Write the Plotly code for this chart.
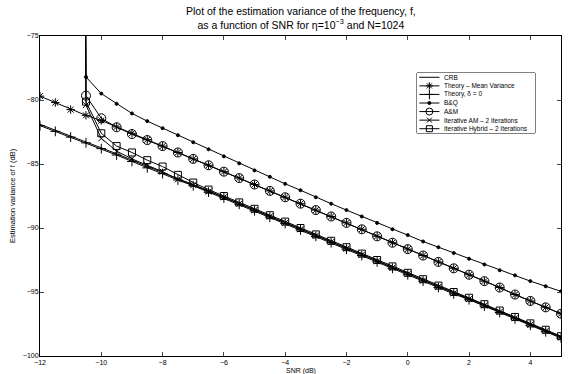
import plotly.graph_objects as go

# ---------------- data ----------------
snr = [-12, -11.5, -11, -10.5, -10, -9.5, -9, -8.5, -8, -7.5, -7, -6.5, -6, -5.5, -5,
       -4.5, -4, -3.5, -3, -2.5, -2, -1.5, -1, -0.5, 0, 0.5, 1, 1.5, 2, 2.5, 3, 3.5, 4, 4.5, 5]

theory_delta0 = [-82.0, -82.45, -82.9, -83.35, -83.8, -84.3, -84.8, -85.3, -85.75, -86.25,
                 -86.7, -87.2, -87.65, -88.15, -88.65, -89.15, -89.65, -90.15, -90.65, -91.15,
                 -91.65, -92.15, -92.65, -93.15, -93.65, -94.15, -94.65, -95.15, -95.6, -96.1,
                 -96.6, -97.1, -97.6, -98.1, -98.6]

crb = [-81.9, -82.35, -82.8, -83.25, -83.7, -84.2, -84.7, -85.2, -85.65, -86.15,
       -86.6, -87.1, -87.55, -88.05, -88.55, -89.05, -89.55, -90.05, -90.55, -91.05,
       -91.55, -92.05, -92.55, -93.05, -93.55, -94.05, -94.55, -95.05, -95.5, -96.0,
       -96.5, -97.0, -97.5, -98.0, -98.5]

theory_mean_var = [-79.7, -80.2, -80.75, -81.2, -81.6, -82.1, -82.6, -83.1, -83.6, -84.1,
                   -84.6, -85.1, -85.6, -86.1, -86.6, -87.1, -87.6, -88.1, -88.6, -89.1,
                   -89.6, -90.1, -90.65, -91.15, -91.65, -92.15, -92.65, -93.15, -93.65, -94.15,
                   -94.65, -95.2, -95.7, -96.2, -96.7]

# values at -11 dB SNR are far above the top of the axis (off the chart)
bq = [None, None, 200, -78.2, -79.5, -80.3, -81.05, -81.65, -82.2, -82.75,
      -83.3, -83.85, -84.4, -84.95, -85.5, -86.0, -86.55, -87.05, -87.6, -88.1,
      -88.6, -89.1, -89.6, -90.1, -90.55, -91.05, -91.5, -91.95, -92.4, -92.85,
      -93.3, -93.7, -94.15, -94.55, -94.95]

am = [None, None, 200, -79.66, -81.43, -82.13, -82.66, -83.13, -83.6, -84.1,
      -84.6, -85.1, -85.6, -86.1, -86.6, -87.1, -87.6, -88.1, -88.6, -89.1,
      -89.6, -90.1, -90.65, -91.15, -91.65, -92.15, -92.65, -93.15, -93.65, -94.15,
      -94.65, -95.2, -95.7, -96.2, -96.7]

iter_am = [None, None, 200, -80.4, -83.0, -84.0, -84.6, -85.1, -85.6, -86.2,
           -86.65, -87.15, -87.6, -88.1, -88.6, -89.1, -89.6, -90.1, -90.6, -91.1,
           -91.6, -92.1, -92.6, -93.1, -93.6, -94.1, -94.6, -95.1, -95.55, -96.05,
           -96.55, -97.05, -97.55, -98.05, -98.55]

iter_hybrid = [None, None, 200, -80.13, -82.6, -83.6, -84.1, -84.7, -85.2, -85.85,
               -86.45, -87.0, -87.5, -88.0, -88.5, -89.0, -89.5, -90.0, -90.5, -91.0,
               -91.5, -92.0, -92.5, -93.0, -93.5, -94.0, -94.5, -95.0, -95.45, -95.95,
               -96.45, -96.95, -97.45, -97.95, -98.45]

legend_names = ["CRB", "Theory \u2013 Mean Variance", "Theory, \u03b4 = 0", "B&amp;Q", "A&amp;M",
                "Iterative AM \u2013 2 Iterations", "Iterative Hybrid \u2013 2 Iterations"]

x_ticks = [-12, -10, -8, -6, -4, -2, 0, 2, 4]
y_ticks = [-100, -95, -90, -85, -80, -75]

# ---------------- styles ----------------
styles = [
    dict(y=crb, sym=None, size=0, lsize=0),
    dict(y=theory_mean_var, sym="asterisk-open", size=7, lsize=6),
    dict(y=theory_delta0, sym="cross-thin-open", size=7, lsize=7),
    dict(y=bq, sym="circle", size=3, lsize=3),
    dict(y=am, sym="circle-open", size=9, lsize=7),
    dict(y=iter_am, sym="x-thin-open", size=6, lsize=5),
    dict(y=iter_hybrid, sym="square-open", size=7, lsize=6),
]

fig = go.Figure()
for st in styles:
    if st["sym"] is None:
        fig.add_trace(go.Scatter(x=snr, y=st["y"], mode="lines",
                                 line=dict(color="black", width=1), showlegend=False))
    else:
        fig.add_trace(go.Scatter(x=snr, y=st["y"], mode="lines+markers",
                                 line=dict(color="black", width=1),
                                 marker=dict(symbol=st["sym"], size=st["size"], color="black",
                                             line=dict(color="black", width=1)),
                                 showlegend=False))

# ---------------- hand-built compact legend (MATLAB style) ----------------
FONT = "Liberation Sans, Arial, Helvetica, sans-serif"
n = len(legend_names)
for i, st in enumerate(styles):
    yy = n - 1 - i + 0.5
    fig.add_trace(go.Scatter(x=[0.02, 0.19], y=[yy, yy], mode="lines",
                             line=dict(color="black", width=1), xaxis="x2", yaxis="y2",
                             showlegend=False, hoverinfo="skip"))
    if st["sym"] is not None:
        fig.add_trace(go.Scatter(x=[0.105], y=[yy], mode="markers",
                                 marker=dict(symbol=st["sym"], size=st["lsize"], color="black",
                                             line=dict(color="black", width=1)),
                                 xaxis="x2", yaxis="y2", showlegend=False, hoverinfo="skip"))
    fig.add_annotation(x=0.21, y=yy, xref="x2", yref="y2", text=legend_names[i],
                       showarrow=False, xanchor="left", yanchor="middle",
                       font=dict(size=6.5, color="black", family=FONT))

W, H = 568, 374
L, R, T, B = 40, 7, 36, 18
pw, ph = W - L - R, H - T - B
def px(x):
    return (x - L) / pw
def py(y):
    return (H - B - y) / ph

leg_x0, leg_x1, leg_y0, leg_y1 = 417, 535, 73, 133
fig.add_shape(type="rect", xref="paper", yref="paper",
              x0=px(leg_x0), x1=px(leg_x1), y0=py(leg_y1), y1=py(leg_y0),
              line=dict(color="black", width=1), fillcolor="white", layer="below")

fig.update_layout(
    width=W, height=H,
    margin=dict(l=L, r=R, t=T, b=B),
    paper_bgcolor="white", plot_bgcolor="white",
    font=dict(family=FONT, color="black", size=7),
    showlegend=False,
    xaxis=dict(range=[-12, 5], tickvals=x_ticks, ticks="inside", ticklen=4,
               showline=True, linecolor="black", linewidth=1, mirror="ticks",
               showgrid=False, zeroline=False, tickfont=dict(size=7),
               ticklabelstandoff=0),
    yaxis=dict(range=[-100, -75], tickvals=y_ticks, ticks="inside", ticklen=4,
               showline=True, linecolor="black", linewidth=1, mirror="ticks",
               showgrid=False, zeroline=False, tickfont=dict(size=7),
               ticklabelstandoff=-1),
    xaxis2=dict(domain=[px(leg_x0), px(leg_x1)], range=[0, 1], visible=False,
                anchor="y2", fixedrange=True),
    yaxis2=dict(domain=[py(leg_y1), py(leg_y0)], range=[0, n], visible=False,
                anchor="x2", fixedrange=True),
)

# title
fig.add_annotation(x=0.5, xref="paper", y=py(3), yref="paper", yanchor="top", xanchor="center",
                   text="Plot of the estimation variance of the frequency, f,<br>"
                        "as a function of SNR for \u03b7=10<sup>\u22123</sup> and N=1024",
                   showarrow=False, font=dict(size=10.5, family=FONT, color="black"))
# axis titles
fig.add_annotation(x=0.5, xref="paper", y=py(370.5), yref="paper", xanchor="center",
                   yanchor="middle", text="SNR (dB)", showarrow=False,
                   font=dict(size=7, family=FONT, color="black"))
fig.add_annotation(x=px(12), xref="paper", y=py(196), yref="paper", xanchor="center",
                   yanchor="middle", text="Estimation variance of f (dB)", showarrow=False,
                   textangle=-90, font=dict(size=7.5, family=FONT, color="black"))

fig.write_html("out.html")
